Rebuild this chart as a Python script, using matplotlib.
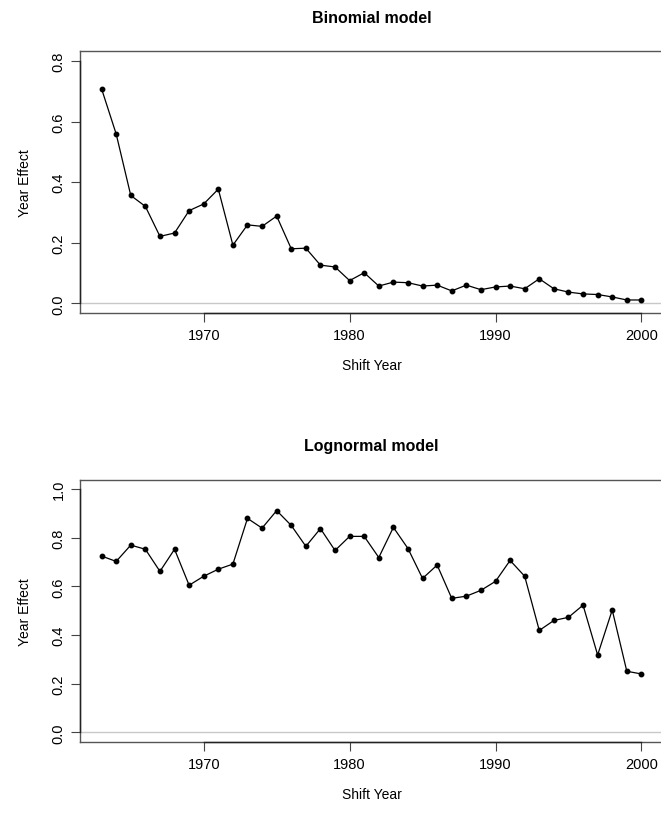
import matplotlib
matplotlib.use("Agg")
import matplotlib.pyplot as plt

plt.rcParams['font.family'] = ['Liberation Sans', 'DejaVu Sans']

years = list(range(1963, 2001))
binomial = [0.708, 0.559, 0.356, 0.320, 0.221, 0.232, 0.306, 0.328, 0.377, 0.192,
            0.259, 0.254, 0.288, 0.180, 0.182, 0.126, 0.120, 0.075, 0.101, 0.057,
            0.070, 0.068, 0.057, 0.060, 0.041, 0.060, 0.045, 0.054, 0.057, 0.048,
            0.081, 0.048, 0.037, 0.031, 0.029, 0.021, 0.011, 0.011]
lognormal = [0.725, 0.703, 0.770, 0.753, 0.662, 0.753, 0.605, 0.642, 0.671, 0.692,
             0.880, 0.840, 0.912, 0.851, 0.765, 0.838, 0.748, 0.806, 0.806, 0.719,
             0.843, 0.756, 0.633, 0.688, 0.551, 0.560, 0.584, 0.621, 0.707, 0.642,
             0.419, 0.460, 0.473, 0.523, 0.318, 0.503, 0.251, 0.240]
xticks = [1970, 1980, 1990, 2000]
top_yticks = [0.0, 0.2, 0.4, 0.6, 0.8]
bot_yticks = [0.0, 0.2, 0.4, 0.6, 0.8, 1.0]

W, H = 661, 820
fig = plt.figure(figsize=(W / 100, H / 100), dpi=100)


def panel(rect, vals, yticks, ylim, title):
    ax = fig.add_axes(rect)
    ax.axhline(0, color='#c8c8c8', lw=1.0, zorder=1)
    ax.plot(years, vals, color='black', lw=0.9, marker='o', markersize=3.2, zorder=3)
    ax.set_xlim(1961.52, 2001.48)
    ax.set_ylim(*ylim)
    ax.set_xticks(xticks)
    ax.set_xticklabels([str(t) for t in xticks], fontsize=10.5)
    ax.set_yticks(yticks)
    ax.set_yticklabels([f"{t:.1f}" for t in yticks], fontsize=10.5, rotation=90, va='center')
    ax.tick_params(direction='out', length=6.5, width=0.8, color='#444444', pad=4)
    for s in ax.spines.values():
        s.set_color('#555555')
        s.set_linewidth(1.0)
    ax.plot([xticks[0], xticks[-1]], [ylim[0], ylim[0]], color='#222222', lw=1.0,
            clip_on=False, zorder=5)
    ax.plot([1961.52, 1961.52], [yticks[0], yticks[-1]], color='#222222', lw=1.0,
            clip_on=False, zorder=5)
    ax.set_xlabel('Shift Year', fontsize=10, labelpad=12)
    ax.set_ylabel('Year Effect', fontsize=10, labelpad=14)
    ax.set_title(title, fontsize=11.5, fontweight='bold', pad=21)
    return ax


top = panel([80 / W, 1 - 314 / H, 583 / W, (314 - 52.3) / H], binomial, top_yticks,
            (-0.032, 0.832), 'Binomial model')
bot = panel([80 / W, 1 - 743 / H, 583 / W, (743 - 480.5) / H], lognormal, bot_yticks,
            (-0.04, 1.04), 'Lognormal model')

fig.savefig('out.png', dpi=100)
